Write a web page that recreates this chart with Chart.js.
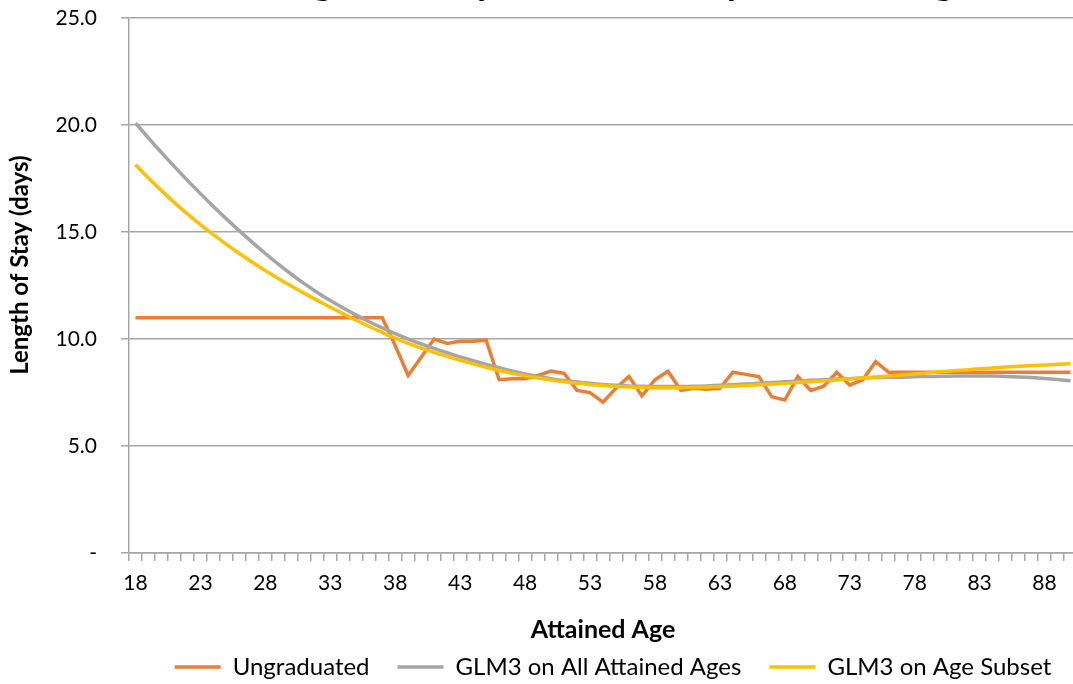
<!DOCTYPE html>
<html>
<head>
<meta charset="utf-8">
<script src="https://cdn.jsdelivr.net/npm/chart.js@4.4.0/dist/chart.umd.min.js"></script>
<style>
  html, body { margin: 0; padding: 0; background: #fff; }
  .frame { position: relative; width: 1073px; height: 684px; overflow: hidden; }
  #los { position: absolute; left: 0; top: -23px; }
</style>
</head>
<body>
<div class="frame">
  <canvas id="los" width="1226" height="712"></canvas>
</div>
<script>
  // ages 18..90
  var ages = ['18','19','20','21','22','23','24','25','26','27',
              '28','29','30','31','32','33','34','35','36','37',
              '38','39','40','41','42','43','44','45','46','47',
              '48','49','50','51','52','53','54','55','56','57',
              '58','59','60','61','62','63','64','65','66','67',
              '68','69','70','71','72','73','74','75','76','77',
              '78','79','80','81','82','83','84','85','86','87',
              '88','89','90'];

  var ungraduated = [11.0, 11.0, 11.0, 11.0, 11.0, 11.0, 11.0, 11.0, 11.0, 11.0,
                     11.0, 11.0, 11.0, 11.0, 11.0, 11.0, 11.0, 11.0, 11.0, 11.0,
                     9.7, 8.3, 9.15, 10.0, 9.8, 9.9, 9.9, 9.95, 8.1, 8.15,
                     8.15, 8.3, 8.5, 8.4, 7.6, 7.5, 7.05, 7.7, 8.25, 7.35,
                     8.1, 8.5, 7.6, 7.7, 7.65, 7.7, 8.45, 8.35, 8.25, 7.3,
                     7.15, 8.25, 7.6, 7.8, 8.45, 7.85, 8.1, 8.95, 8.45, 8.45,
                     8.45, 8.45, 8.45, 8.45, 8.45, 8.45, 8.45, 8.45, 8.45, 8.45,
                     8.45, 8.45, 8.45];

  var glmAllAges = [20.10, 19.40, 18.72, 18.06, 17.42, 16.80, 16.20, 15.62, 15.06, 14.52,
                    14.00, 13.50, 13.03, 12.59, 12.18, 11.80, 11.45, 11.12, 10.81, 10.52,
                    10.25, 10.00, 9.77, 9.56, 9.36, 9.17, 8.99, 8.82, 8.66, 8.51,
                    8.37, 8.25, 8.15, 8.06, 7.99, 7.93, 7.88, 7.84, 7.81, 7.79,
                    7.78, 7.78, 7.78, 7.79, 7.81, 7.84, 7.87, 7.90, 7.93, 7.97,
                    8.00, 8.04, 8.07, 8.10, 8.13, 8.15, 8.18, 8.20, 8.21, 8.22,
                    8.24, 8.25, 8.26, 8.27, 8.27, 8.27, 8.27, 8.25, 8.23, 8.20,
                    8.16, 8.11, 8.05];

  var glmAgeSubset = [18.15, 17.53, 16.94, 16.38, 15.85, 15.35, 14.88, 14.43, 14.00, 13.59,
                      13.20, 12.83, 12.48, 12.14, 11.81, 11.49, 11.18, 10.88, 10.59, 10.31,
                      10.04, 9.80, 9.58, 9.38, 9.19, 9.01, 8.84, 8.68, 8.53, 8.40,
                      8.28, 8.18, 8.09, 8.01, 7.94, 7.88, 7.83, 7.79, 7.76, 7.74,
                      7.73, 7.73, 7.73, 7.74, 7.76, 7.78, 7.80, 7.83, 7.86, 7.90,
                      7.93, 7.97, 8.01, 8.05, 8.09, 8.14, 8.18, 8.23, 8.27, 8.32,
                      8.37, 8.42, 8.47, 8.52, 8.56, 8.61, 8.65, 8.69, 8.73, 8.76,
                      8.79, 8.82, 8.85];

  var yTicks = [0, 5, 10, 15, 20, 25];

  var FONT = 'Lato, "Open Sans", sans-serif';
  var GRID = '#a6a6a6';
  var NBSP = '\u00a0\u00a0\u00a0\u00a0\u00a0\u00a0\u00a0';

  new Chart(document.getElementById('los'), {
    type: 'line',
    data: {
      labels: ages,
      datasets: [{
        label: 'Ungraduated',
        data: ungraduated,
        borderColor: '#ed7d31',
        backgroundColor: '#ed7d31',
        borderWidth: 3.5,
        pointRadius: 0,
        tension: 0,
        order: 3
      }, {
        label: 'GLM3 on All Attained Ages',
        data: glmAllAges,
        borderColor: '#a5a5a5',
        backgroundColor: '#a5a5a5',
        borderWidth: 3.5,
        pointRadius: 0,
        tension: 0.3,
        order: 2
      }, {
        label: 'GLM3 on Age Subset',
        data: glmAgeSubset,
        borderColor: '#ffc000',
        backgroundColor: '#ffc000',
        borderWidth: 3.5,
        pointRadius: 0,
        tension: 0.3,
        order: 1
      }]
    },
    options: {
      responsive: false,
      animation: false,
      devicePixelRatio: 1,
      layout: { padding: 0 },
      plugins: {
        title: {
          display: true,
          text: 'Length of Stay Graduation by Attained Age',
          color: '#000',
          font: { family: FONT, size: 38, weight: 'bold' },
          padding: { top: -16.8, bottom: 12.4 }
        },
        legend: {
          position: 'bottom',
          labels: {
            usePointStyle: true,
            pointStyle: 'line',
            pointStyleWidth: 46,
            color: '#000',
            font: { family: FONT, size: 24 },
            padding: 28,
            sort: function (a, b) { return a.datasetIndex - b.datasetIndex; }
          }
        },
        tooltip: { enabled: false }
      },
      scales: {
        x: {
          offset: true,
          afterFit: function (s) { s.paddingRight = 149; },
          grid: { offset: true, drawOnChartArea: false, tickLength: 8, color: GRID, lineWidth: 1.5 },
          border: { color: GRID, width: 1.5 },
          ticks: {
            autoSkip: false,
            maxRotation: 0,
            padding: 10,
            color: '#000',
            font: { family: FONT, size: 21 },
            callback: function (v, i) { return i % 5 === 0 ? this.getLabelForValue(v) : ''; }
          },
          title: {
            display: true,
            text: 'Attained Age',
            color: '#000',
            font: { family: FONT, size: 25, weight: 'bold' },
            padding: { top: 8.8, bottom: -18 }
          }
        },
        y: {
          min: 0,
          max: 25,
          afterBuildTicks: function (s) { s.ticks = yTicks.map(function (v) { return { value: v }; }); },
          afterFit: function (s) { s.width = 129; },
          grid: { color: GRID, lineWidth: 1.5, tickLength: 8 },
          border: { color: GRID, width: 1.5 },
          ticks: {
            padding: 24,
            color: '#000',
            font: { family: FONT, size: 21 },
            callback: function (v) { return v === 0 ? '-' : v.toFixed(1); }
          },
          title: {
            display: true,
            text: NBSP + 'Length of Stay (days)',
            color: '#000',
            font: { family: FONT, size: 24, weight: 'bold' },
            padding: { top: 5.6, bottom: 0 }
          }
        }
      }
    }
  });
</script>
</body>
</html>
